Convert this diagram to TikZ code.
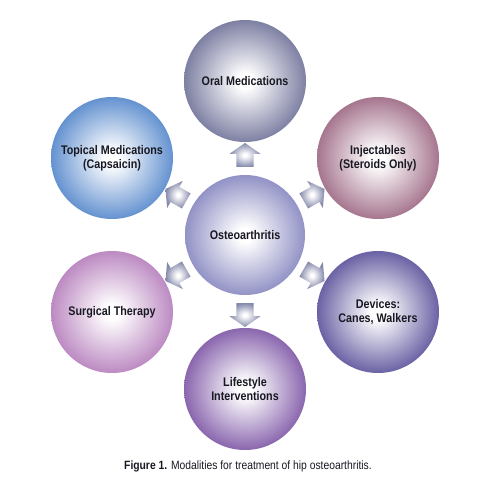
\documentclass[tikz,border=0pt]{standalone}
\usepackage{fontspec}
\setmainfont{Liberation Sans}[FakeStretch=0.86]
\usetikzlibrary{shapes.arrows,calc}

\definecolor{oralcol}{RGB}{126,128,163}
\definecolor{injcol}{RGB}{166,118,143}
\definecolor{devcol}{RGB}{106,98,164}
\definecolor{lifecol}{RGB}{138,102,174}
\definecolor{surgcol}{RGB}{188,138,194}
\definecolor{topcol}{RGB}{100,146,208}
\definecolor{oacol}{RGB}{146,146,198}
\definecolor{arrcol}{RGB}{132,137,170}
\definecolor{labelcol}{RGB}{24,24,34}
\colorlet{orbcol}{oacol}

\pgfdeclareradialshading[orbcol]{orbshade}{\pgfpoint{0bp}{0bp}}{color(0bp)=(white); color(3bp)=(white); color(25bp)=(orbcol); color(50bp)=(orbcol)}

\tikzset{
  orb color/.code={\colorlet{orbcol}{#1}},
  topic/.style={circle, minimum size=122pt, inner sep=0pt, align=center,
    shading=orbshade, orb color=#1, text=labelcol,
    font=\bfseries\fontsize{12.5}{14}\selectfont},
  blockarr/.style={single arrow, shading=orbshade, orb color=arrcol,
    minimum height=24pt, inner xsep=0pt, inner ysep=8.5pt,
    single arrow head extend=7pt, single arrow tip angle=110, rotate=#1}
}

\begin{document}
\begin{tikzpicture}[x=1pt,y=1pt]
    \useasboundingbox (0,0) rectangle (487,491);

    \node[topic=oacol, minimum size=120pt] (oa) at (245,256) {Osteoarthritis};

    \node[topic=oralcol] (oral) at (245,410) {Oral Medications};
    \node[topic=injcol] (inj) at (378,333) {Injectables\\(Steroids Only)};
    \node[topic=devcol] (dev) at (378,179) {Devices:\\Canes, Walkers};
    \node[topic=lifecol] (life) at (245,102) {Lifestyle\\Interventions};
    \node[topic=surgcol] (surg) at (112,179) {Surgical Therapy};
    \node[topic=topcol] (top) at (112,333) {Topical Medications\\(Capsaicin)};

    % arrows from the centre outwards
    \node[blockarr=90] (a1) at ($(oa)!0.5!(oral)$) {};
    \node[blockarr=30] (a2) at ($(oa)!0.5!(inj)$) {};
    \node[blockarr=-30] (a3) at ($(oa)!0.5!(dev)$) {};
    \node[blockarr=-90] (a4) at ($(oa)!0.5!(life)$) {};
    \node[blockarr=210] (a5) at ($(oa)!0.5!(surg)$) {};
    \node[blockarr=150] (a6) at ($(oa)!0.5!(top)$) {};

    \node[text=labelcol, font=\fontsize{12}{14}\selectfont] (cap) at (248,25)
        {\textbf{Figure 1.} Modalities for treatment of hip osteoarthritis.};
\end{tikzpicture}
\end{document}
